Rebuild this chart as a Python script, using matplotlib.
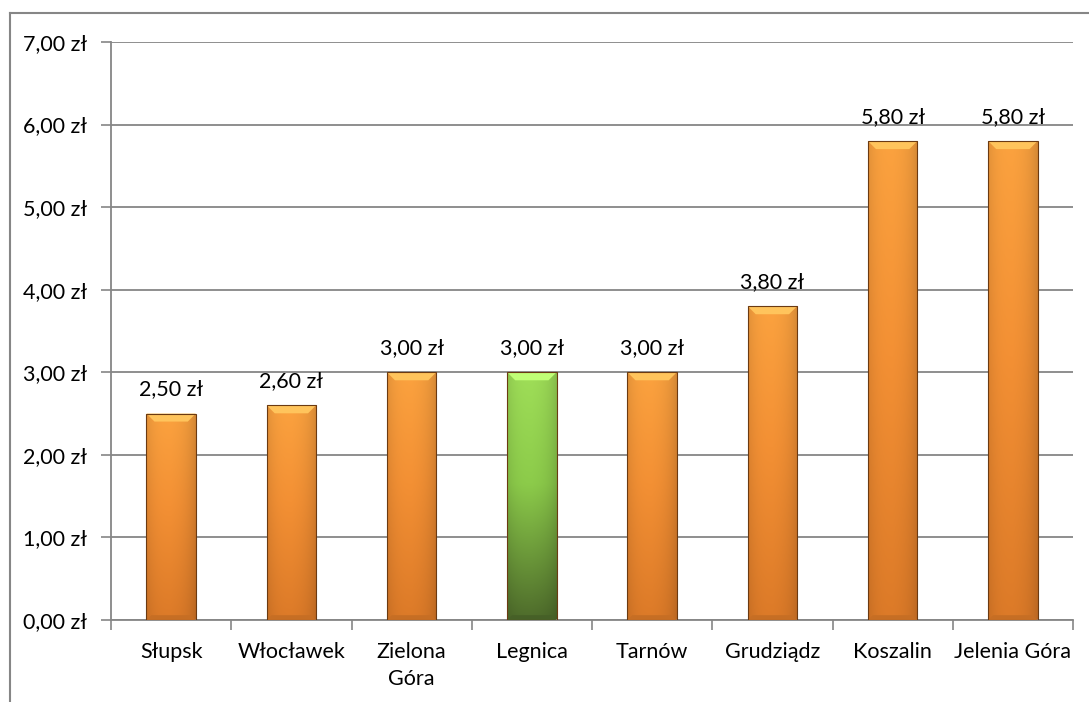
import numpy as np
import matplotlib.pyplot as plt
from matplotlib.lines import Line2D
from matplotlib.patches import Polygon
from matplotlib.colors import to_rgb

cities = ['Słupsk', 'Włocławek', 'Zielona\nGóra', 'Legnica', 'Tarnów',
          'Grudziądz', 'Koszalin', 'Jelenia Góra']
prices = [2.50, 2.60, 3.00, 3.00, 3.00, 3.80, 5.80, 5.80]
highlight = 'Legnica'
yticks = [0, 1, 2, 3, 4, 5, 6, 7]

ORANGE = ('#fba23f', '#f39034', '#dc7a28')   # top, middle, bottom
GREEN = ('#9fde58', '#8ccb4a', '#4e6b2b')
FS = 15.5

plt.rcParams['font.family'] = ['Lato', 'DejaVu Sans']


def zl(v):
    return f'{v:.2f}'.replace('.', ',') + ' zł'


def gradient(cols, nx=60, ny=200):
    top, mid, bot = [np.array(to_rgb(c)) for c in cols]
    t = np.linspace(0, 1, ny)[:, None]
    col = np.where(t[..., None] < 0.45,
                   top + (mid - top) * (t[..., None] / 0.45),
                   mid + (bot - mid) * ((t[..., None] - 0.45) / 0.55))
    col = np.broadcast_to(col, (ny, nx, 3)).copy()
    x = np.linspace(-1, 1, nx)
    shade = 1 - 0.10 * np.abs(x) ** 3 - 0.05 * (x > 0) * x
    col *= shade[None, :, None]
    return np.clip(col, 0, 1)


fig = plt.figure(figsize=(10.89, 7.02), dpi=100)
ax = fig.add_axes([111 / 1089, 1 - 620 / 702, 962 / 1089, 578 / 702])

x = np.arange(len(cities))
width = 0.41
bars = ax.bar(x, prices, width=width, color='none', edgecolor='#6b3a12',
              linewidth=0.8, zorder=3)

ax.set_xlim(-0.5, len(cities) - 0.5)
ax.set_ylim(0, 7)

# pixel -> data sizes for the bevel
px_x = len(cities) / 962
px_y = 7 / 578

for b, name, val in zip(bars, cities, prices):
    cols = GREEN if name.startswith(highlight) else ORANGE
    x0, x1 = b.get_x(), b.get_x() + b.get_width()
    im = ax.imshow(gradient(cols), extent=(x0, x1, 0, val), aspect='auto',
                   origin='upper', zorder=2.5)
    im.set_clip_path(b)
    # top bevel
    bx, by = 8 * px_x, 8 * px_y
    light = np.clip(np.array(to_rgb(cols[0])) * 1.05 + 0.10, 0, 1)
    ax.add_patch(Polygon([(x0, val), (x1, val), (x1 - bx, val - by),
                          (x0 + bx, val - by)], closed=True,
                         facecolor=light, edgecolor='none', zorder=2.8))
    # bottom bevel
    dark = np.array(to_rgb(cols[2])) * 0.9
    ax.add_patch(Polygon([(x0, 0), (x1, 0), (x1 - bx * 0.6, by * 0.6),
                          (x0 + bx * 0.6, by * 0.6)], closed=True,
                         facecolor=dark, edgecolor='none', zorder=2.8))
    ax.annotate(zl(val), (b.get_x() + b.get_width() / 2, val),
                xytext=(0, 13), textcoords='offset points',
                ha='center', va='baseline', fontsize=FS, color='#000000')

ax.set_yticks(yticks)
ax.set_yticklabels([zl(v) for v in yticks], fontsize=FS)
ax.set_xticks(x)
ax.set_xticklabels(cities, fontsize=FS, linespacing=1.45)
ax.set_xticks(np.arange(len(cities) + 1) - 0.5, minor=True)
ax.tick_params(axis='x', which='major', length=0, pad=16)
ax.tick_params(axis='x', which='minor', length=7, color='#868686', width=1.2)
ax.tick_params(axis='y', length=7, color='#868686', width=1.2, pad=10)

ax.grid(axis='y', color='#868686', linewidth=1.3, zorder=0)
ax.set_axisbelow(True)
for s in ['top', 'right']:
    ax.spines[s].set_visible(False)
for s in ['left', 'bottom']:
    ax.spines[s].set_color('#868686')
    ax.spines[s].set_linewidth(1.3)

# outer chart frame (cut by the image edges)
fx, fy = 9.5 / 1089, 1 - 12.5 / 702
fig.add_artist(Line2D([fx, 1], [fy, fy], color='#868686', lw=1.5))
fig.add_artist(Line2D([fx, fx], [0, fy], color='#868686', lw=1.5))

fig.savefig('out.png', dpi=100)
